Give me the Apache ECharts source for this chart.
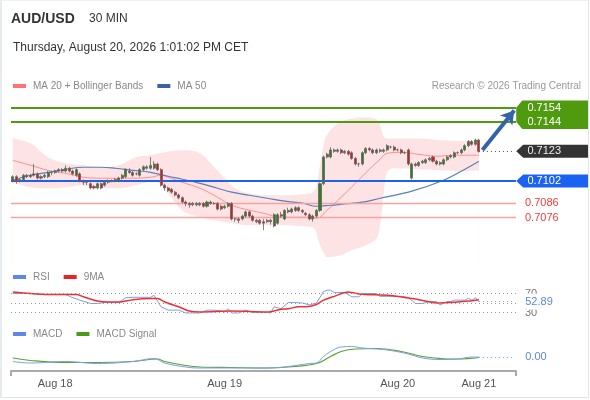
<!DOCTYPE html>
<html>
<head>
<meta charset="utf-8">
<title>AUD/USD 30 MIN</title>
<script src="https://cdn.jsdelivr.net/npm/echarts@6.0.0/dist/echarts.min.js"></script>
<style>
  html, body { margin: 0; padding: 0; background: #fff; }
  #chart { width: 590px; height: 400px; }
  #frame {
    position: absolute; left: 0; top: 0; width: 586px; height: 396px;
    border-left: 2px solid #e6ebf0; border-top: 1px solid #eef1f4;
    border-right: 1px solid #e1e5ea; border-bottom: 1px solid #e1e5ea;
    pointer-events: none;
  }
</style>
</head>
<body>
<div id="chart"></div>
<div id="frame"></div>
<script>
// 30 min candles, [open, close, low, high]
const candles = [
  [0.7102,0.7105,0.7101,0.7106],[0.7105,0.7102,0.7100,0.7106],[0.7102,0.7103,0.7101,0.7104],
  [0.7103,0.7106,0.7102,0.7107],[0.7106,0.7105,0.7104,0.7107],[0.7105,0.7106,0.7104,0.7107],
  [0.7106,0.7107,0.7105,0.7114],[0.7107,0.7104,0.7103,0.7108],[0.7104,0.7105,0.7103,0.7106],
  [0.7105,0.7106,0.7104,0.7107],[0.7105,0.7108,0.7104,0.7109],[0.7108,0.7108,0.7106,0.7109],
  [0.7108,0.7109,0.7107,0.7110],[0.7109,0.7110,0.7108,0.7111],[0.7110,0.7109,0.7108,0.7111],
  [0.7109,0.7111,0.7108,0.7113],[0.7111,0.7109,0.7108,0.7112],[0.7109,0.7107,0.7106,0.7110],
  [0.7106,0.7110,0.7105,0.7111],[0.7107,0.7102,0.7101,0.7108],[0.7102,0.7101,0.7099,0.7103],
  [0.7101,0.7101,0.7099,0.7102],[0.7100,0.7097,0.7096,0.7101],[0.7098,0.7097,0.7096,0.7099],
  [0.7097,0.7100,0.7096,0.7101],[0.7100,0.7097,0.7096,0.7101],[0.7099,0.7101,0.7098,0.7102],
  [0.7101,0.7102,0.7100,0.7103],[0.7102,0.7102,0.7101,0.7103],[0.7102,0.7103,0.7101,0.7104],
  [0.7102,0.7104,0.7101,0.7105],[0.7104,0.7106,0.7103,0.7107],[0.7105,0.7110,0.7104,0.7111],
  [0.7109,0.7108,0.7107,0.7111],[0.7108,0.7106,0.7105,0.7109],[0.7107,0.7107,0.7106,0.7108],
  [0.7106,0.7110,0.7105,0.7111],[0.7110,0.7112,0.7109,0.7113],[0.7111,0.7112,0.7110,0.7113],
  [0.7111,0.7113,0.7110,0.7119],[0.7111,0.7114,0.7110,0.7116],[0.7114,0.7110,0.7109,0.7115],
  [0.7110,0.7099,0.7098,0.7111],[0.7099,0.7097,0.7095,0.7100],[0.7097,0.7095,0.7094,0.7098],
  [0.7096,0.7094,0.7093,0.7097],[0.7094,0.7092,0.7091,0.7095],[0.7092,0.7090,0.7089,0.7093],
  [0.7090,0.7087,0.7086,0.7091],[0.7087,0.7086,0.7084,0.7088],[0.7086,0.7085,0.7083,0.7087],
  [0.7085,0.7086,0.7084,0.7087],[0.7086,0.7085,0.7084,0.7087],[0.7085,0.7086,0.7084,0.7087],
  [0.7086,0.7084,0.7083,0.7087],[0.7084,0.7087,0.7083,0.7088],[0.7087,0.7086,0.7085,0.7088],
  [0.7086,0.7086,0.7085,0.7087],[0.7086,0.7082,0.7081,0.7087],[0.7084,0.7082,0.7081,0.7085],
  [0.7083,0.7084,0.7082,0.7085],[0.7084,0.7086,0.7083,0.7087],[0.7086,0.7075,0.7074,0.7087],
  [0.7075,0.7075,0.7073,0.7076],[0.7075,0.7074,0.7072,0.7076],[0.7075,0.7077,0.7074,0.7078],
  [0.7077,0.7080,0.7076,0.7081],[0.7080,0.7077,0.7076,0.7081],[0.7077,0.7074,0.7073,0.7078],
  [0.7074,0.7073,0.7072,0.7075],[0.7074,0.7072,0.7071,0.7075],[0.7073,0.7072,0.7067,0.7075],
  [0.7073,0.7074,0.7072,0.7075],[0.7074,0.7073,0.7071,0.7075],[0.7070,0.7078,0.7069,0.7079],
  [0.7072,0.7078,0.7071,0.7079],[0.7078,0.7077,0.7076,0.7080],[0.7075,0.7081,0.7074,0.7082],
  [0.7081,0.7080,0.7079,0.7083],[0.7080,0.7082,0.7079,0.7083],[0.7081,0.7083,0.7080,0.7084],
  [0.7083,0.7081,0.7080,0.7084],[0.7081,0.7080,0.7079,0.7082],[0.7079,0.7078,0.7077,0.7080],
  [0.7078,0.7075,0.7074,0.7079],[0.7075,0.7077,0.7073,0.7078],[0.7077,0.7081,0.7076,0.7082],
  [0.7081,0.7100,0.7080,0.7101],[0.7100,0.7119,0.7099,0.7120],[0.7119,0.7121,0.7118,0.7122],
  [0.7119,0.7124,0.7118,0.7126],[0.7124,0.7123,0.7122,0.7125],[0.7123,0.7124,0.7122,0.7125],
  [0.7124,0.7122,0.7121,0.7125],[0.7122,0.7123,0.7121,0.7124],[0.7123,0.7121,0.7120,0.7124],
  [0.7122,0.7118,0.7117,0.7123],[0.7118,0.7114,0.7113,0.7119],[0.7114,0.7114,0.7112,0.7115],
  [0.7114,0.7122,0.7113,0.7123],[0.7122,0.7125,0.7121,0.7126],[0.7125,0.7124,0.7123,0.7126],
  [0.7124,0.7122,0.7121,0.7125],[0.7122,0.7124,0.7121,0.7125],[0.7124,0.7123,0.7122,0.7125],
  [0.7123,0.7124,0.7122,0.7125],[0.7124,0.7127,0.7123,0.7128],[0.7126,0.7126,0.7125,0.7127],
  [0.7126,0.7124,0.7123,0.7127],[0.7124,0.7124,0.7123,0.7125],[0.7124,0.7122,0.7121,0.7125],
  [0.7122,0.7122,0.7121,0.7123],[0.7124,0.7114,0.7113,0.7125],[0.7104,0.7114,0.7103,0.7115],
  [0.7114,0.7113,0.7112,0.7115],[0.7113,0.7115,0.7112,0.7116],[0.7115,0.7116,0.7114,0.7117],
  [0.7115,0.7117,0.7114,0.7118],[0.7117,0.7118,0.7116,0.7119],[0.7119,0.7116,0.7115,0.7120],
  [0.7116,0.7114,0.7113,0.7117],[0.7114,0.7115,0.7113,0.7116],[0.7114,0.7117,0.7113,0.7118],
  [0.7117,0.7119,0.7116,0.7120],[0.7119,0.7120,0.7118,0.7121],[0.7119,0.7122,0.7118,0.7123],
  [0.7122,0.7122,0.7121,0.7123],[0.7122,0.7124,0.7121,0.7125],[0.7124,0.7127,0.7123,0.7128],
  [0.7127,0.7130,0.7126,0.7131],[0.7130,0.7128,0.7127,0.7131],[0.7128,0.7131,0.7127,0.7132],
  [0.7131,0.7123,0.7122,0.7132]
];

// indicator lines as [candle index, value]
const bbUpper = [[0,0.71322],[5,0.71287],[10,0.71188],[15,0.71145],[20,0.71131],[25,0.71117],
  [30,0.71131],[35,0.71188],[39,0.71202],[43,0.71223],[48,0.71237],[53,0.71216],[56,0.71145],
  [60,0.71039],[63,0.70968],[67,0.70932],[72,0.70918],[77,0.70918],[82,0.70925],[85,0.70940],
  [86,0.70989],[87,0.71131],[88,0.71273],[89,0.71344],[92,0.71429],[96,0.71464],[100,0.71471],
  [103,0.71457],[104,0.71415],[105,0.71337],[106,0.71322],[108,0.71322],[115,0.71322],
  [122,0.71308],[128,0.71301],[132,0.71294]];
const bbLower = [[0,0.71010],[5,0.70975],[10,0.70968],[15,0.70975],[20,0.70989],[25,0.70968],
  [30,0.70968],[35,0.70989],[39,0.71010],[42,0.71003],[44,0.70932],[48,0.70812],[53,0.70762],
  [57,0.70741],[62,0.70720],[67,0.70706],[72,0.70706],[77,0.70706],[82,0.70698],[85,0.70691],
  [86,0.70649],[87,0.70564],[88,0.70514],[89,0.70479],[92,0.70486],[96,0.70528],[100,0.70564],
  [103,0.70613],[104,0.70706],[105,0.70918],[106,0.71081],[108,0.71110],[115,0.71103],
  [122,0.71095],[128,0.71088],[132,0.71095]];
const ma20 = [[0,0.71166],[5,0.71131],[10,0.71095],[15,0.71074],[20,0.71046],[25,0.71039],
  [30,0.71039],[34,0.71039],[39,0.71046],[42,0.71060],[44,0.71046],[48,0.71010],[53,0.70968],
  [58,0.70904],[62,0.70847],[67,0.70812],[71,0.70791],[76,0.70762],[82,0.70762],[86,0.70755],
  [89,0.70812],[93,0.70904],[97,0.71003],[101,0.71103],[104,0.71173],[106,0.71216],
  [110,0.71223],[115,0.71209],[120,0.71195],[125,0.71202],[132,0.71202]];
const ma50 = [[0,0.71025],[5,0.71060],[10,0.71081],[15,0.71103],[20,0.71117],[25,0.71117],
  [29,0.71110],[34,0.71095],[39,0.71081],[44,0.71053],[48,0.71032],[53,0.71003],[58,0.70968],
  [62,0.70940],[67,0.70918],[72,0.70897],[77,0.70876],[82,0.70862],[86,0.70840],[90,0.70847],
  [93,0.70854],[99,0.70869],[104,0.70897],[113,0.70947],[122,0.71025],[127,0.71088],
  [132,0.71159]];

const rsi = [[0,70],[5,70],[8,68],[15,68],[16,64],[19,56],[22,49],[24,49],[26,51],[30,51],
  [32,61],[34,62],[39,62],[40,66],[42,42],[44,35],[47,35],[49,29],[53,29],[55,35],[57,35],
  [59,33],[60,31],[61,38],[62,29],[64,29],[66,35],[68,30],[72,30],[73,29],[74,42],[76,38],
  [78,51],[80,51],[82,50],[84,46],[86,50],[88,74],[89,77],[90,77],[91,72],[94,72],[96,63],
  [98,63],[99,70],[103,70],[104,64],[110,64],[112,62],[114,49],[116,49],[118,53],[120,53],
  [121,46],[123,53],[124,53],[125,56],[128,56],[129,60],[130,56],[131,61],[132,52.89]];
const rsiMa = [[0,73],[5,70],[10,68],[18,68],[20,63],[24,54],[27,52],[30,52],[34,57],[39,59.5],
  [41,59.5],[43,52],[47,42],[50,33],[53,31],[62,33],[72,31],[76,37],[78,38],[81,42],[83,42],
  [86,47],[88,56],[91,64],[95,73],[96,72],[99,68.5],[107,66],[115,57],[120,50],[126,52],
  [129,54],[132,57]];
const rsiLevels = [70, 50, 30];

const macd = [[0,-0.00009],[5,-0.00012],[15,-0.00009],[24,-0.00013],[34,-0.00009],[40,-0.00003],
  [43,-0.00012],[49,-0.00020],[53,-0.00022],[62,-0.00022],[72,-0.00022],[78,-0.00019],
  [84,-0.00013],[86,-0.00012],[88,0.00001],[91,0.00015],[93,0.00020],[96,0.00021],[99,0.00018],
  [103,0.00016],[107,0.00013],[112,0.00006],[116,-0.00002],[121,-0.00005],[126,-0.00004],
  [130,0],[132,0]];
const macdSignal = [[0,-0.00002],[5,-0.00007],[15,-0.00011],[24,-0.00011],[34,-0.00009],
  [41,-0.00004],[43,-0.00009],[49,-0.00017],[53,-0.00020],[62,-0.00021],[72,-0.00022],
  [78,-0.00020],[86,-0.00013],[90,0.00001],[93,0.00011],[97,0.00016],[103,0.00017],
  [110,0.00011],[116,0.00001],[121,-0.00003],[126,-0.00004],[132,-0.00001]];

// key levels: resistances, last price, supports
const resistances = [0.7154, 0.7144];
const lastPrice = 0.7123;
const pivot = 0.7102;
const supports = [0.7086, 0.7076];

const dateTicks = ['Aug 18', 'Aug 19', 'Aug 20', 'Aug 21'];
const dateTickIndex = [12, 60, 109, 132];

const FONT = "'Liberation Sans', Arial, Helvetica, sans-serif";
const slots = candles.length + 10;     // empty room on the right for the arrow
const last = candles.length - 1;
const edge = slots - 1;
const categories = Array.from({ length: slots }, (_, i) => String(i));
const tickText = {};
dateTickIndex.forEach((idx, k) => { tickText[idx] = dateTicks[k]; });

const GREEN = '#4f9a0e', BLUE = '#1c62f2', DARK = '#333333';
const tagUpper = 'path://M6,0 L72,0 L72,14.5 L0,14.5 L0,7.25 Z';
const tagLower = 'path://M0,0 L72,0 L72,14.5 L6,14.5 L0,7.25 Z';
const tagPoint = 'path://M0,6.5 L7,0 L72,0 L72,13 L7,13 Z';

function tag(value, color, path, h, textColor) {
  return {
    coord: [edge, value], symbol: path, symbolSize: [72, h], symbolOffset: [38, 0],
    itemStyle: { color: color },
    label: { show: true, position: 'inside', offset: [-8, 0], formatter: value.toFixed(4),
      color: textColor, fontSize: 11, fontFamily: FONT }
  };
}

const dotted = (color) => ({ color: color, width: 1, type: [1, 3] });
const endLabel = (text, color, bg) => ({
  show: true, position: 'end', distance: 9, formatter: text, color: color,
  fontSize: 11, fontFamily: FONT, lineHeight: 12,
  backgroundColor: bg || 'transparent', padding: bg ? [2, 2] : 0
});

const chart = echarts.init(document.getElementById('chart'));

const option = {
  animation: false,
  backgroundColor: '#fff',
  textStyle: { fontFamily: FONT },
  title: [
    { text: 'AUD/USD', left: 11, top: 11, padding: 0,
      textStyle: { fontSize: 14, fontWeight: 'bold', color: '#333', lineHeight: 16, fontFamily: FONT } },
    { text: '30 MIN', left: 89, top: 12, padding: 0,
      textStyle: { fontSize: 12, fontWeight: 'normal', color: '#333', lineHeight: 14, fontFamily: FONT } },
    { text: 'Thursday, August 20, 2026 1:01:02 PM CET', left: 13, top: 41, padding: 0,
      textStyle: { fontSize: 12, fontWeight: 'normal', color: '#333', lineHeight: 14, fontFamily: FONT } },
    { text: 'Research © 2026 Trading Central', right: 9, top: 80, padding: 0,
      textStyle: { fontSize: 10, fontWeight: 'normal', color: '#999', lineHeight: 12, fontFamily: FONT } }
  ],
  legend: [
    { data: ['MA 20 + Bollinger Bands', 'MA 50'], top: 80, left: 13 },
    { data: ['RSI', '9MA'], top: 271, left: 13 },
    { data: ['MACD', 'MACD Signal'], top: 328, left: 13 }
  ].map(l => Object.assign({
    padding: 0, icon: 'rect', itemWidth: 13, itemHeight: 4, itemGap: 14, selectedMode: false,
    textStyle: { color: '#888', fontSize: 10, lineHeight: 12, fontFamily: FONT, padding: [0, 0, 0, 2] }
  }, l)),
  grid: [
    { left: 11, width: 505, top: 95, height: 169, outerBoundsMode: 'none' },
    { left: 11, width: 505, top: 284, height: 38, outerBoundsMode: 'none' },
    { left: 11, width: 505, top: 340, height: 31, outerBoundsMode: 'none' }
  ],
  xAxis: [
    { gridIndex: 0, type: 'category', data: categories, show: false },
    { gridIndex: 1, type: 'category', data: categories, show: false },
    { gridIndex: 2, type: 'category', data: categories, position: 'bottom',
      axisLine: { show: false, onZero: false }, axisTick: { show: false }, splitLine: { show: false },
      axisLabel: { interval: 0, color: '#555', fontSize: 11, margin: 7, fontFamily: FONT,
        formatter: (v, i) => tickText[i] || '' } },
    { gridIndex: 2, type: 'value', min: 0, max: slots, interval: slots, position: 'bottom',
      axisLine: { show: true, onZero: false, lineStyle: { color: '#aaa', width: 2 } },
      axisTick: { show: true, length: 5, lineStyle: { color: '#aaa', width: 2 } },
      axisLabel: { show: false }, splitLine: { show: false } }
  ],
  yAxis: [
    { gridIndex: 0, type: 'value', min: 0.7043, max: 0.7163, show: false },
    { gridIndex: 1, type: 'value', min: 10, max: 90, show: false },
    { gridIndex: 2, type: 'value', min: -0.00028, max: 0.00034, show: false }
  ],
  series: [
    { name: 'bbUpper', type: 'line', data: bbUpper, smooth: 0.4, symbol: 'none', silent: true, z: 0,
      lineStyle: { width: 0, opacity: 0 }, areaStyle: { color: '#fde3e3', opacity: 1, origin: 'start' } },
    { name: 'bbLower', type: 'line', data: bbLower, smooth: 0.4, symbol: 'none', silent: true, z: 1,
      lineStyle: { width: 0, opacity: 0 }, areaStyle: { color: '#ffffff', opacity: 1, origin: 'start' } },
    { name: 'MA 20 + Bollinger Bands', type: 'line', data: ma20, smooth: 0.4, symbol: 'none', z: 3,
      itemStyle: { color: '#ff7373' }, lineStyle: { color: '#ff8f8f', width: 1 } },
    { name: 'MA 50', type: 'line', data: ma50, smooth: 0.4, symbol: 'none', z: 3,
      itemStyle: { color: '#3b62a6' }, lineStyle: { color: '#5a7fbd', width: 1.2 },
      markLine: {
        silent: true, animation: false, precision: 6, symbol: ['none', 'none'], label: { show: false },
        data: [
          ...resistances.map(v => ({ yAxis: v, lineStyle: { color: GREEN, width: 2, type: 'solid' } })),
          { yAxis: pivot, lineStyle: { color: BLUE, width: 2, type: 'solid' } },
          ...supports.map(v => ({ yAxis: v, lineStyle: { color: '#f7a3a3', width: 1.3, type: 'solid' },
            label: endLabel(v.toFixed(4), '#f23b3b') }))
        ]
      }
    },
    { name: 'AUD/USD', type: 'candlestick', data: candles, barWidth: '72%', z: 5,
      itemStyle: { color: '#347c20', color0: '#d8191c', borderColor: '#666', borderColor0: '#666', borderWidth: 0.8 },
      markLine: {
        silent: true, animation: false, precision: 6, symbol: ['none', 'none'], label: { show: false },
        data: [
          [{ coord: [last, lastPrice] }, { coord: [edge, lastPrice], lineStyle: dotted('#555') }],
          [{ coord: [last + 1, lastPrice + 0.0001] },
           { coord: [edge, resistances[0] - 0.0002], symbol: 'arrow', symbolSize: [12, 13],
             lineStyle: { color: '#3563a8', width: 4, type: 'solid' } }]
        ]
      },
      markPoint: {
        silent: true, animation: false,
        data: [
          tag(resistances[0], GREEN, tagUpper, 14.5, '#fff'),
          tag(resistances[1], GREEN, tagLower, 14.5, '#fff'),
          tag(lastPrice, DARK, tagPoint, 13, '#eee'),
          tag(pivot, BLUE, tagPoint, 13, '#fff')
        ]
      }
    },
    { name: 'RSI', type: 'line', xAxisIndex: 1, yAxisIndex: 1, data: rsi, symbol: 'none', z: 4,
      itemStyle: { color: '#5f86ea' }, lineStyle: { color: '#7c9ef0', width: 1 },
      markLine: {
        silent: true, animation: false, precision: 6, symbol: ['none', 'none'],
        data: [
          ...rsiLevels.map(v => ({ yAxis: v, lineStyle: dotted('#9a9a9a'),
            label: v === 50 ? { show: false } : endLabel(String(v), '#777') })),
          [{ coord: [last, rsi[rsi.length - 1][1]] },
           { coord: [edge, rsi[rsi.length - 1][1]], lineStyle: dotted('#7c9ef0'),
             label: endLabel(rsi[rsi.length - 1][1].toFixed(2), '#5b86e5', '#fff') }]
        ]
      }
    },
    { name: '9MA', type: 'line', xAxisIndex: 1, yAxisIndex: 1, data: rsiMa, smooth: 0.3, symbol: 'none', z: 4,
      itemStyle: { color: '#ee2222' }, lineStyle: { color: '#ef3030', width: 1.5 } },
    { name: 'MACD', type: 'line', xAxisIndex: 2, yAxisIndex: 2, data: macd, smooth: 0.4, symbol: 'none', z: 4,
      itemStyle: { color: '#5f86ea' }, lineStyle: { color: '#7c9ef0', width: 1 },
      markLine: {
        silent: true, animation: false, precision: 6, symbol: ['none', 'none'],
        data: [
          [{ coord: [last, macd[macd.length - 1][1]] },
           { coord: [edge, macd[macd.length - 1][1]], lineStyle: dotted('#7c9ef0'),
             label: endLabel(macd[macd.length - 1][1].toFixed(2), '#5b86e5', '#fff') }]
        ]
      }
    },
    { name: 'MACD Signal', type: 'line', xAxisIndex: 2, yAxisIndex: 2, data: macdSignal, smooth: 0.4, symbol: 'none', z: 3,
      itemStyle: { color: '#4c9a1c' }, lineStyle: { color: '#5aa428', width: 1.2 } }
  ]
};

chart.setOption(option);
</script>
</body>
</html>
